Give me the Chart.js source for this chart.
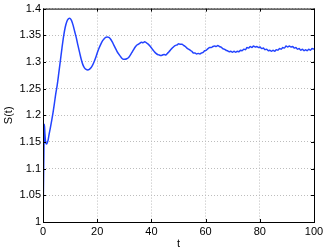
<!DOCTYPE html>
<html>
<head>
<meta charset="utf-8">
<script src="https://cdn.jsdelivr.net/npm/chart.js@4/dist/chart.umd.min.js"></script>
<style>
    body { margin: 0; background: #fff; }
</style>
</head>
<body>
<canvas id="sChart" width="327" height="251"></canvas>
<script>
// valores
const tValues = [0, 0.25, 0.5, 0.7, 0.95, 1.25, 1.55, 1.9, 2.2, 2.7, 3.2, 3.7, 4.2, 4.7, 5.2, 5.8, 6.4, 7.0, 7.6, 8.2,
    8.8, 9.4, 9.9, 10.5, 11.1, 11.7, 12.3, 12.9, 13.5, 14.1, 14.7, 15.3, 15.9, 16.5, 17.1, 17.7, 18.3, 18.9, 19.5, 20.1,
    20.7, 21.3, 21.9, 22.5, 23.1, 23.7, 24.3, 24.9, 25.5, 26.1, 26.7, 27.3, 27.9, 28.5, 29.1, 29.7, 30.3, 30.9, 31.5, 32.1,
    32.7, 33.3, 33.9, 34.5, 35.1, 35.7, 36.3, 36.9, 37.5, 38.1, 38.7, 39.3, 39.9, 40.5, 41.1, 41.7, 42.3, 42.9, 43.5, 44.1,
    44.7, 45.3, 45.9, 46.5, 47.1, 47.7, 48.3, 48.9, 49.5, 50.1, 50.7, 51.3, 51.9, 52.5, 53.1, 53.7, 54.3, 54.9, 55.5, 56.1,
    56.7, 57.3, 57.9, 58.5, 59.1, 59.7, 60.3, 60.9, 61.5, 62.1, 62.7, 63.3, 63.9, 64.5, 65.1, 65.7, 66.3, 66.9, 67.5, 68.1,
    68.7, 69.3, 69.9, 70.5, 71.1, 71.7, 72.3, 72.9, 73.5, 74.1, 74.7, 75.3, 75.9, 76.5, 77.1, 77.7, 78.3, 78.9, 79.5, 80.1,
    80.7, 81.3, 81.9, 82.5, 83.1, 83.7, 84.3, 84.9, 85.5, 86.1, 86.7, 87.3, 87.9, 88.5, 89.1, 89.7, 90.3, 90.9, 91.5, 92.1,
    92.7, 93.3, 93.9, 94.5, 95.1, 95.7, 96.3, 96.9, 97.5, 98.1, 98.7, 99.3, 100];

const sValues = [1.0, 1.1, 1.183, 1.166, 1.15, 1.146, 1.148, 1.154, 1.163, 1.176, 1.19, 1.205, 1.222, 1.24, 1.255, 1.278, 1.302, 1.326, 1.348, 1.365,
    1.376, 1.381, 1.382, 1.378, 1.369, 1.357, 1.345, 1.331, 1.318, 1.305, 1.295, 1.289, 1.286, 1.285, 1.286, 1.289, 1.294, 1.301, 1.309, 1.318,
    1.326, 1.333, 1.339, 1.343, 1.346, 1.347, 1.346, 1.343, 1.338, 1.332, 1.326, 1.32, 1.315, 1.311, 1.307, 1.305, 1.305, 1.306, 1.308, 1.312,
    1.317, 1.322, 1.327, 1.331, 1.333, 1.335, 1.337, 1.336, 1.338, 1.336, 1.334, 1.331, 1.327, 1.323, 1.319, 1.316, 1.314, 1.313, 1.312, 1.313,
    1.314, 1.313, 1.316, 1.319, 1.323, 1.326, 1.329, 1.331, 1.332, 1.334, 1.333, 1.333, 1.331, 1.329, 1.326, 1.324, 1.322, 1.32, 1.317, 1.317,
    1.315, 1.316, 1.315, 1.317, 1.318, 1.321, 1.322, 1.325, 1.327, 1.327, 1.329, 1.33, 1.329, 1.331, 1.329, 1.328, 1.325, 1.324, 1.322, 1.321,
    1.319, 1.32, 1.318, 1.32, 1.318, 1.32, 1.319, 1.322, 1.321, 1.324, 1.323, 1.327, 1.326, 1.329, 1.327, 1.33, 1.328, 1.329, 1.327, 1.328,
    1.325, 1.326, 1.323, 1.324, 1.321, 1.322, 1.32, 1.322, 1.32, 1.323, 1.322, 1.325, 1.324, 1.327, 1.326, 1.33, 1.328, 1.33, 1.328, 1.329,
    1.326, 1.327, 1.324, 1.325, 1.322, 1.324, 1.321, 1.323, 1.321, 1.324, 1.322, 1.325, 1.324];

const xTicks = [0, 20, 40, 60, 80, 100];
const yTicks = [1, 1.05, 1.1, 1.15, 1.2, 1.25, 1.3, 1.35, 1.4];

const fuente = { family: 'Liberation Sans, Arial, sans-serif', size: 11 };

// caja negra y marcas hacia adentro, estilo matlab
const cajaPlugin = {
    id: 'caja',
    afterDraw(chart) {
        const { ctx, chartArea: a, scales } = chart;
        ctx.save();
        ctx.strokeStyle = '#000';
        ctx.lineWidth = 1;
        ctx.strokeRect(a.left + 0.5, a.top + 0.5, a.right - a.left, a.bottom - a.top);
        ctx.beginPath();
        xTicks.forEach(v => {
            const px = Math.round(scales.x.getPixelForValue(v)) + 0.5;
            ctx.moveTo(px, a.bottom); ctx.lineTo(px, a.bottom - 3);
            ctx.moveTo(px, a.top); ctx.lineTo(px, a.top + 3);
        });
        yTicks.forEach(v => {
            const py = Math.round(scales.y.getPixelForValue(v)) + 0.5;
            ctx.moveTo(a.left, py); ctx.lineTo(a.left + 3, py);
            ctx.moveTo(a.right, py); ctx.lineTo(a.right - 3, py);
        });
        ctx.stroke();
        ctx.restore();
    }
};

const puntos = tValues.map((t, i) => ({ x: t, y: sValues[i] }));

new Chart(document.getElementById('sChart'), {
    type: 'line',
    data: {
        datasets: [{
            data: puntos,
            borderColor: '#2343ff',
            borderWidth: 1.5,
            pointRadius: 0,
            cubicInterpolationMode: 'monotone',
            fill: false
        }]
    },
    options: {
        responsive: false,
        animation: false,
        layout: { padding: { top: 8, right: 13, left: 0, bottom: 0 } },
        plugins: { legend: { display: false }, tooltip: { enabled: false } },
        scales: {
            x: {
                type: 'linear',
                min: 0,
                max: 100,
                afterFit: s => { s.height = 29; },
                afterBuildTicks: s => { s.ticks = xTicks.map(v => ({ value: v })); },
                ticks: { font: fuente, color: '#000', padding: 3, maxRotation: 0 },
                grid: { color: '#bdbdbd', drawTicks: false },
                border: { display: false, dash: [1, 2] },
                title: { display: true, text: 't', font: fuente, color: '#000', padding: { top: 0, bottom: 0 } }
            },
            y: {
                min: 1,
                max: 1.4,
                afterFit: s => { s.width = 43; },
                afterBuildTicks: s => { s.ticks = yTicks.map(v => ({ value: v })); },
                ticks: {
                    font: fuente, color: '#000', padding: 2,
                    callback: v => String(+v.toFixed(2))
                },
                grid: { color: '#bdbdbd', drawTicks: false },
                border: { display: false, dash: [1, 2] },
                title: { display: true, text: 'S(t)', font: fuente, color: '#000', padding: { top: 2, bottom: 2 } }
            }
        }
    },
    plugins: [cajaPlugin]
});
</script>
</body>
</html>
